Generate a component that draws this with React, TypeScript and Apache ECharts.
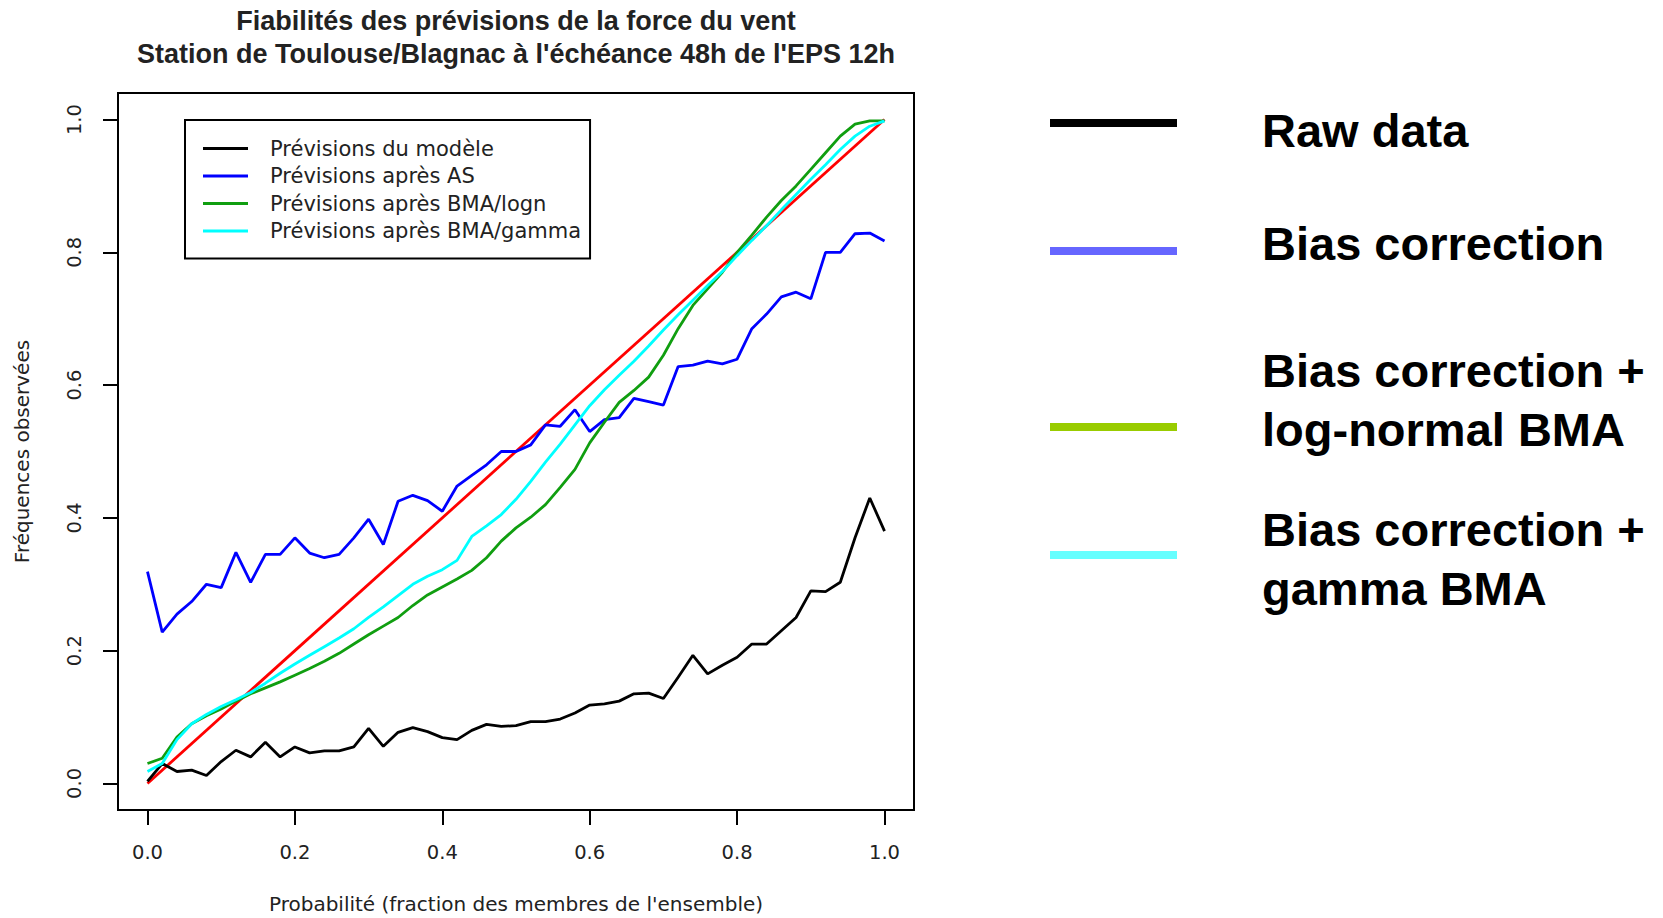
import React, { useEffect, useRef } from "react";
import * as echarts from "echarts";

// Probability (fraction of ensemble members)
const probabilities = [
  0, 0.02, 0.04, 0.06, 0.08, 0.1, 0.12, 0.14, 0.16, 0.18, 0.2, 0.22, 0.24, 0.26, 0.28, 0.3,
  0.32, 0.34, 0.36, 0.38, 0.4, 0.42, 0.44, 0.46, 0.48, 0.5, 0.52, 0.54, 0.56, 0.58, 0.6, 0.62,
  0.64, 0.66, 0.68, 0.7, 0.72, 0.74, 0.76, 0.78, 0.8, 0.82, 0.84, 0.86, 0.88, 0.9, 0.92, 0.94,
  0.96, 0.98, 1.0,
];

// Prévisions du modèle (raw data)
const rawModel = [
  0.003, 0.03, 0.018, 0.02, 0.012, 0.033, 0.05, 0.04, 0.062, 0.04, 0.055, 0.046, 0.049, 0.049,
  0.055, 0.083, 0.056, 0.077, 0.084, 0.078, 0.069, 0.066, 0.08, 0.089, 0.086, 0.087, 0.093,
  0.093, 0.097, 0.106, 0.118, 0.12, 0.124, 0.135, 0.136, 0.128, 0.16, 0.193, 0.165, 0.178, 0.19,
  0.21, 0.21, 0.23, 0.25, 0.29, 0.289, 0.303, 0.37, 0.43, 0.38,
];

// Prévisions après AS (bias correction)
const afterAS = [
  0.319, 0.228, 0.255, 0.274, 0.3, 0.295, 0.348, 0.303, 0.345, 0.345, 0.37, 0.347, 0.34, 0.345,
  0.37, 0.398, 0.36, 0.425, 0.434, 0.426, 0.41, 0.448, 0.464, 0.48, 0.5, 0.5, 0.51, 0.54, 0.538,
  0.563, 0.53, 0.548, 0.551, 0.58, 0.575, 0.57, 0.628, 0.63, 0.636, 0.632, 0.639, 0.685, 0.707,
  0.733, 0.74, 0.73, 0.8, 0.8, 0.828, 0.829, 0.817,
];

// Prévisions après BMA/logn
const afterBmaLogn = [
  0.03, 0.038, 0.07, 0.09, 0.102, 0.112, 0.124, 0.135, 0.144, 0.153, 0.163, 0.173, 0.184, 0.196,
  0.21, 0.224, 0.237, 0.25, 0.268, 0.284, 0.296, 0.308, 0.321, 0.34, 0.365, 0.385, 0.401, 0.42,
  0.446, 0.473, 0.513, 0.544, 0.574, 0.592, 0.612, 0.645, 0.685, 0.72, 0.745, 0.77, 0.8, 0.826,
  0.853, 0.878, 0.9, 0.925, 0.95, 0.975, 0.993, 0.998, 0.998,
];

// Prévisions après BMA/gamma
const afterBmaGamma = [
  0.018, 0.03, 0.066, 0.09, 0.104, 0.116, 0.126, 0.137, 0.151, 0.166, 0.18, 0.193, 0.206, 0.219,
  0.233, 0.25, 0.266, 0.283, 0.3, 0.312, 0.322, 0.336, 0.372, 0.388, 0.405, 0.428, 0.455, 0.484,
  0.511, 0.54, 0.569, 0.593, 0.615, 0.636, 0.659, 0.683, 0.706, 0.728, 0.75, 0.771, 0.795, 0.818,
  0.84, 0.864, 0.887, 0.91, 0.932, 0.955, 0.975, 0.99, 0.998,
];

// Perfect reliability diagonal
const diagonalX = [0, 1];
const diagonalY = [0, 1];

const tickValues = [0, 0.2, 0.4, 0.6, 0.8, 1.0];

const seriesNames = [
  "Prévisions du modèle",
  "Prévisions après AS",
  "Prévisions après BMA/logn",
  "Prévisions après BMA/gamma",
];
const seriesColors = ["#000000", "#0000ff", "#109e10", "#00ffff"];
const seriesValues = [rawModel, afterAS, afterBmaLogn, afterBmaGamma];

const rightLegendLabels = [
  "Raw data",
  "Bias correction",
  "Bias correction +\nlog-normal BMA",
  "Bias correction +\ngamma BMA",
];
const rightLegendColors = ["#000000", "#6666ff", "#99cc00", "#66ffff"];

const titleText =
  "Fiabilités des prévisions de la force du vent\nStation de Toulouse/Blagnac à l'échéance 48h de l'EPS 12h";
const xName = "Probabilité (fraction des membres de l'ensemble)";
const yName = "Fréquences observées";

const rFont = "DejaVu Sans";

export default function App() {
  const ref = useRef<HTMLDivElement>(null);

  useEffect(() => {
    if (!ref.current) return;
    const chart = echarts.init(ref.current, undefined, { renderer: "svg" });

    const pair = (xs: number[], ys: number[]) => xs.map((x, i) => [x, ys[i]]);

    const lineSeries: any[] = [
      {
        name: "Diagonale",
        type: "line",
        data: pair(diagonalX, diagonalY),
        showSymbol: false,
        symbol: "none",
        lineStyle: { color: "#ff0000", width: 2.8 },
        itemStyle: { color: "#ff0000" },
        z: 2,
      },
      ...seriesNames.map((name, i) => ({
        name,
        type: "line",
        data: pair(probabilities, seriesValues[i]),
        showSymbol: false,
        symbol: "none",
        lineStyle: { color: seriesColors[i], width: 2.8 },
        itemStyle: { color: seriesColors[i] },
        z: 3,
      })),
    ];

    const rightLineY = [123, 251, 427, 555];
    const rightTextY = [130, 243, 400, 559];
    const graphics: any[] = [
      {
        type: "text",
        x: 516,
        y: 37,
        style: {
          text: titleText,
          fontFamily: "Liberation Sans, Arial",
          fontWeight: "bold",
          fontSize: 27,
          lineHeight: 33,
          fill: "#222",
          align: "center",
          verticalAlign: "middle",
          textAlign: "center",
          textVerticalAlign: "middle",
        },
      },
    ];
    rightLegendLabels.forEach((label, i) => {
      graphics.push({
        type: "line",
        shape: { x1: 1050, y1: rightLineY[i], x2: 1177, y2: rightLineY[i] },
        style: { stroke: rightLegendColors[i], lineWidth: 8 },
      });
      graphics.push({
        type: "text",
        x: 1262,
        y: rightTextY[i],
        style: {
          text: label,
          fontFamily: "Liberation Sans, Arial",
          fontWeight: "bold",
          fontSize: 47,
          lineHeight: 59,
          fill: "#000",
          align: "left",
          verticalAlign: "middle",
          textAlign: "left",
          textVerticalAlign: "middle",
        },
      });
    });

    const axisCommon = {
      type: "value" as const,
      min: -0.04,
      max: 1.04,
      splitLine: { show: false },
      axisLine: { show: false, onZero: false },
      axisTick: {
        show: true,
        inside: false,
        length: 15,
        customValues: tickValues,
        lineStyle: { color: "#000", width: 2 },
      },
      nameLocation: "middle" as const,
      nameTextStyle: { fontFamily: rFont, fontSize: 20, color: "#222" },
    };

    chart.setOption({
      animation: false,
      backgroundColor: "#ffffff",
      grid: {
        left: 118,
        top: 93,
        width: 796,
        height: 717,
        show: true,
        borderColor: "#000",
        borderWidth: 2,
        backgroundColor: "transparent",
        containLabel: false,
        outerBoundsMode: "none",
      },
      xAxis: {
        ...axisCommon,
        name: xName,
        nameGap: 84,
        axisLabel: {
          customValues: tickValues,
          formatter: (v: number) => v.toFixed(1),
          margin: 32,
          fontFamily: rFont,
          fontSize: 19.5,
          color: "#222",
        },
      },
      yAxis: {
        ...axisCommon,
        name: yName,
        nameGap: 86,
        nameRotate: 90,
        axisLabel: {
          customValues: tickValues,
          formatter: (v: number) => v.toFixed(1),
          rotate: 90,
          margin: 34,
          fontFamily: rFont,
          fontSize: 19.5,
          color: "#222",
        },
      },
      legend: {
        data: seriesNames,
        orient: "vertical",
        left: 185,
        top: 120,
        padding: [18, 9, 17, 18],
        itemGap: 6.5,
        itemWidth: 45,
        itemHeight: 3,
        icon: "rect",
        borderColor: "#000",
        borderWidth: 2,
        backgroundColor: "#fff",
        selectedMode: false,
        textStyle: {
          fontFamily: rFont,
          fontSize: 21,
          color: "#222",
          padding: [0, 0, 0, 17],
        },
      },
      graphic: graphics,
      series: lineSeries,
    });

    return () => chart.dispose();
  }, []);

  return (
    <div
      ref={ref}
      style={{ position: "absolute", left: 0, top: 0, width: 1663, height: 918, background: "#fff" }}
    />
  );
}
